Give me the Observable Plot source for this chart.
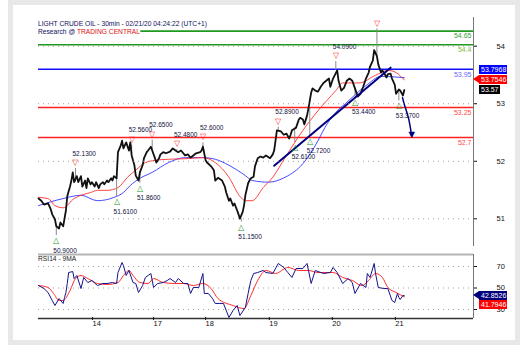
<!DOCTYPE html>
<html><head><meta charset="utf-8">
<script src="https://cdn.jsdelivr.net/npm/d3@7"></script>
<script src="https://cdn.jsdelivr.net/npm/@observablehq/plot@0.6"></script>
<style>
body{margin:0;background:#fff;font-family:"Liberation Sans",Arial,sans-serif;}
#wrap{position:relative;width:530px;height:360px;overflow:hidden;background:#fff}
.abs{position:absolute}
.tag{position:absolute;height:9px;line-height:9px;font-size:7px;color:#fff;padding:0 2px;white-space:nowrap}
.tip{position:absolute;width:0;height:0;border-top:4.5px solid transparent;border-bottom:4.5px solid transparent}
.ttl{font-size:7.5px;line-height:8px;color:#10105a;background:#fff;width:fit-content;white-space:nowrap;transform:scaleX(0.89);transform-origin:0 0}
</style></head><body>
<div id="wrap">
 <div class="abs" style="left:8px;top:0;width:502px;height:335px;border:5px solid #e8e8e8"></div>
 <div id="main" class="abs" style="left:0;top:0"></div>
 <div id="axis" class="abs" style="left:0;top:0"></div>
 <div id="rsi" class="abs" style="left:0;top:253px"></div>
 <div id="tags"></div>
 <div class="abs" style="left:38px;top:20px">
   <div class="ttl">LIGHT CRUDE OIL - 30min - 02/21/20 04:24:22 (UTC+1)</div>
   <div class="ttl">Research @ <span style="color:#e01010">TRADING CENTRAL</span></div>
 </div>
 <div class="abs ttl" style="left:38px;top:255px;color:#222;background:transparent">RSI14 - 9MA</div>
</div>
<script>
// ---------- data (x = 30-minute bar index) ----------
const priceBars = [
 0,2,4,7,9,10,12,13,15,16,
 18,19,20,21,23,24,25,26,28,29,
 31,32,34,35,36,38,39,41,42,44,
 45,47,48,50,51,53,54,55,57,58,
 60,61,62,64,66,67,68,70,71,73,
 74,76,77,79,80,82,83,85,86,88,
 89,91,93,96,98,100,102,104,107,109,
 111,113,115,118,119,120,122,123,126,128,
 129,131,134,136,137,139,140,142,143,145,
 146,147,149,150,151,153,154,155,157,158,
 160,162,164,166,169,171,172,173,174,177,
 179,181,183,184,185,188,190,191,193,194,
 196,197,199,200,202,204,206,208,210,212,
 213,215,218,219,221,223,225,227,229,231,
 233,235,237,239,241,242,244,245,247,248,
 250,251,253,254,255,257,258,260,261,263,
 264,266,267];
const priceClose = [
 51.58,51.54,51.47,51.49,51.38,51.29,51.20,51.07,51.03,51.14,
 51.07,51.21,51.36,51.62,51.80,51.91,52.06,51.88,51.99,51.88,
 51.99,51.80,51.91,51.77,51.95,51.84,51.88,51.80,51.88,51.77,
 51.84,51.88,51.84,51.91,51.88,51.95,51.91,51.99,51.95,52.43,
 52.55,52.64,52.50,52.61,52.46,52.61,52.37,52.19,52.00,51.91,
 52.06,52.19,52.32,52.43,52.46,52.53,52.46,52.32,52.24,52.32,
 52.39,52.43,52.41,52.44,52.50,52.46,52.43,52.46,52.37,52.39,
 52.33,52.37,52.41,52.43,52.46,52.53,52.28,52.24,52.17,52.10,
 51.91,51.96,51.91,51.80,51.69,51.54,51.58,51.45,51.49,51.36,
 51.29,51.21,51.33,51.45,51.64,51.86,51.91,51.95,51.98,52.17,
 52.32,52.35,52.33,52.37,52.32,52.39,52.46,52.64,52.83,52.81,
 52.75,52.77,52.68,52.75,52.83,52.88,53.03,53.06,53.03,52.94,
 53.10,53.23,53.52,53.60,53.56,53.54,53.63,53.70,53.74,53.78,
 53.63,53.78,53.93,53.74,53.56,53.61,53.74,53.78,53.74,53.60,
 53.45,53.50,53.63,53.78,53.89,54.00,54.11,54.30,54.19,54.04,
 53.89,53.93,53.85,53.80,53.86,53.87,53.78,53.67,53.50,53.58,
 53.56,53.47,53.57];

const redMaBars = [0,7,12,18,26,31,38,43,50,58, 65,71,78,85,95,107,120,129,139,147, 151,156,164,171,180,193,204,217,222,234, 246,255,261,267];
const redMaVals = [51.60,51.58,51.45,51.41,51.58,51.64,51.69,51.73,51.73,51.78, 51.97,52.10,52.24,52.28,52.30,52.31,52.33,52.24,51.97,51.62, 51.54,51.54,51.78,51.97,52.33,52.83,53.19,53.56,53.70,53.70, 53.84,53.93,53.89,53.7546];

const blueMaBars = [0,18,31,43,55,62,67,74,83,95, 107,120,129,139,151,156,168,180,193,204, 209,217,224,239,250,267];
const blueMaVals = [51.45,51.58,51.64,51.54,51.60,51.69,51.82,51.95,52.06,52.24, 52.33,52.33,52.30,52.19,52.00,51.91,51.88,51.97,52.22,52.64, 52.88,53.16,53.32,53.65,53.82,53.7968];

const levelValues = [54.65, 54.4, 53.95, 53.25, 52.7];
const levelKinds  = ["R2", "R1", "pivot", "S1", "S2"];

const pivotBars   = [13, 27, 57, 68, 74, 83, 101, 120, 148, 175, 187, 198, 217, 231, 247, 263];
const pivotValues = [50.90, 52.13, 51.61, 52.56, 51.86, 52.65, 52.48, 52.60, 51.15, 52.89, 52.61, 52.72, 54.09, 53.44, 54.69, 53.37];
const pivotTypes  = ["low","high","low","high","low","high","high","high","low","high","low","low","high","low","high","low"];
const pivotShowLabel = [true,true,true,true,true,true,true,true,true,true,true,true,true,true,false,true];

const trendBars = [172, 257];
const trendVals = [52.18, 53.98];
const projBars = [265.7, 267.2, 270.1, 272.3];
const projVals = [53.43, 53.29, 53.05, 52.74];

const rsiBars = [0,4,7,10,12,15,18,19,20,21, 22,25,26,28,31,33,36,39,43,47, 50,54,57,58,61,62,64,66,69,71, 73,76,78,80,82,84,87,91,94,96, 100,102,106,109,111,113,117,120,121,124, 127,129,132,135,139,142,145,147,151,153, 155,157,160,164,166,171,175,179,182,185, 188,193,196,199,202,208,213,215,218,222, 226,229,231,235,239,240,242,245,246,248, 252,255,258,260,262,263,264,266,267];
const rsiVals = [52.3,49.5,45.8,38.4,33.7,40.2,35.6,41.2,45.8,54.2, 64.4,65.3,58.8,61.6,49.5,59.8,55.1,57.0,52.3,54.2, 54.2,55.1,54.2,64.4,73.7,70.9,61.6,66.3,55.1,54.2, 45.8,52.3,59.8,61.6,63.5,50.5,54.2,55.1,57.0,58.8, 55.1,58.8,54.2,54.2,44.9,50.5,50.5,63.5,44.9,44.9, 40.2,35.6,35.6,35.6,22.6,29.1,33.7,24.4,31.9,44.9, 57.0,63.5,64.4,66.3,64.4,63.5,72.8,69.1,64.4,59.8, 68.1,68.1,72.8,54.2,66.3,63.5,64.4,69.1,64.4,54.2, 58.8,55.1,44.9,54.2,50.5,63.5,59.8,72.8,63.5,50.5, 49.5,49.5,38.4,36.5,44.9,41.2,39.3,43.0,42.8526];
const rsiMaBars = [0,7,11,15,18,23,27,31,36,43, 50,58,62,66,69,74,80,84,91,99, 106,113,120,126,131,142,150,155,160,166, 173,182,190,197,204,215,222,229,236,241, 246,251,255,261,267];
const rsiMaVals = [52.3,50.5,44.9,38.4,38.4,47.7,58.8,61.6,58.8,54.2, 53.3,55.1,61.6,66.3,61.6,55.1,54.2,58.8,55.1,54.2, 54.2,52.3,54.2,49.5,40.2,33.7,30.9,43.0,57.0,66.3, 63.5,69.1,66.3,66.3,64.4,64.4,59.8,57.0,52.3,57.0, 63.5,59.8,50.5,45.8,41.7946];

const priceTicks = [51, 52, 53, 54];
const rsiTicks = [30, 50, 70];
const dayTickBars = [38, 82.5, 120.5, 167, 213, 259];
const dayLabels = ["14", "17", "18", "19", "20", "21"];

// ---------- build ----------
const zip = (xs, ys) => xs.map((x, i) => ({x, y: ys[i]}));
const price = zip(priceBars, priceClose);
const redMa = zip(redMaBars, redMaVals);
const blueMa = zip(blueMaBars, blueMaVals);
const rsi = zip(rsiBars, rsiVals);
const rsiMa = zip(rsiMaBars, rsiMaVals);
const trend = zip(trendBars, trendVals);
const proj = zip(projBars, projVals);
const levels = levelValues.map((v, i) => ({value: v, kind: levelKinds[i]}));
const lineColor = {R2: "#1f9a1f", R1: "#1f9a1f", pivot: "#1010ff", S1: "#ff2020", S2: "#ff2020"};
const textColor = {R2: "#3aa03a", R1: "#86b83c", pivot: "#6a6aff", S1: "#ff4848", S2: "#ff4848"};
const pivots = pivotBars.map((b, i) => {
  let near = price[0];
  for (const p of price) if (Math.abs(p.x - b) < Math.abs(near.x - b)) near = p;
  return {x: b, y: pivotValues[i], type: pivotTypes[i], show: pivotShowLabel[i], close: near.y};
});
const highs = pivots.filter(d => d.type === "high");
const lows = pivots.filter(d => d.type === "low");

const X_DOMAIN = [0, 317.5];
const FONT = "'Liberation Sans', Arial, sans-serif";
const base = {width: 530, marginLeft: 38, marginRight: 57, style: {background: "transparent", overflow: "visible", fontFamily: FONT, fontSize: "7.5px", color: "#111"}};

const main = Plot.plot({
  ...base, height: 250, marginTop: 17, marginBottom: 4,
  x: {domain: X_DOMAIN, axis: null},
  y: {domain: [50.7, 54.9], axis: null},
  color: {type: "identity"},
  marks: [
    Plot.ruleY(levels, {y: "value", stroke: d => lineColor[d.kind], strokeWidth: 1.6}),
    Plot.text(levels, {y: "value", frameAnchor: "right", text: d => String(d.value), textAnchor: "end", dx: -2, dy: 5, fill: d => textColor[d.kind], fontSize: 7}),
    Plot.line(blueMa, {x: "x", y: "y", stroke: "#3535ff", strokeWidth: 0.9, curve: "monotone-x"}),
    Plot.line(redMa, {x: "x", y: "y", stroke: "#ff3030", strokeWidth: 0.9, curve: "monotone-x"}),
    Plot.ruleX(pivots, {x: "x", y1: "y", y2: "close", stroke: "#8a8a8a", strokeWidth: 1}),
    Plot.line(price, {x: "x", y: "y", stroke: "#111", strokeWidth: 1.8}),
    Plot.line(trend, {x: "x", y: "y", stroke: "#000080", strokeWidth: 2}),
    Plot.line(proj, {x: "x", y: "y", stroke: "#000080", strokeWidth: 1.5, curve: "natural"}),
    Plot.text(proj.slice(-1), {x: "x", y: "y", text: () => "▼", fill: "#000080", fontSize: 11, lineAnchor: "bottom", dy: 3}),
    Plot.text(highs, {x: "x", y: "y", text: () => "▽", fill: "#ff2a2a", fontSize: 8, lineAnchor: "middle", dy: -6}),
    Plot.text(lows, {x: "x", y: "y", text: () => "△", fill: "#1a9a1a", fontSize: 8, lineAnchor: "middle", dy: 5}),
    Plot.text(highs.filter(d => d.show), {x: "x", y: "y", text: d => d.y.toFixed(4), textAnchor: "start", dx: -3, dy: -15, lineAnchor: "middle", fill: "#101040", fontSize: 6.5}),
    Plot.text(lows.filter(d => d.show), {x: "x", y: "y", text: d => d.y.toFixed(4), textAnchor: "start", dx: -3, dy: 15, lineAnchor: "middle", fill: "#101040", fontSize: 6.5}),
    Plot.ruleX([X_DOMAIN[1]], {stroke: "#777", strokeWidth: 1})
  ]
});
document.getElementById("main").append(main);
const yMain = main.scale("y");

const axisPlot = Plot.plot({
  ...base, height: 250, marginTop: 45.7, marginBottom: 31.7,
  y: {domain: [51, 54]},
  marks: [
    Plot.gridY({ticks: priceTicks, stroke: "#888", strokeOpacity: 0.8, strokeDasharray: "1,4"}),
    Plot.axisY({ticks: priceTicks, tickFormat: d => String(d), anchor: "right", tickSize: 3, tickPadding: 20, fontSize: 7.5, label: null})
  ]
});
document.getElementById("axis").append(axisPlot);

const rsiTop = 70 + 12 / 1.075, rsiBottom = 30 - 9 / 1.075;
const dayMap = new Map(dayTickBars.map((b, i) => [b, dayLabels[i]]));
const rsiPlot = Plot.plot({
  ...base, height: 80, marginTop: 1, marginBottom: 15,
  x: {domain: X_DOMAIN},
  y: {domain: [rsiBottom, rsiTop]},
  marks: [
    Plot.gridY({ticks: rsiTicks, stroke: "#888", strokeOpacity: 0.8, strokeDasharray: "1,4"}),
    Plot.ruleY([rsiTop], {stroke: "#b4b4b4", strokeWidth: 2}),
    Plot.line(rsiMa, {x: "x", y: "y", stroke: "#ff2a2a", strokeWidth: 1, curve: "monotone-x"}),
    Plot.line(rsi, {x: "x", y: "y", stroke: "#14148c", strokeWidth: 1}),
    Plot.axisY({ticks: rsiTicks, tickFormat: d => String(d), anchor: "right", tickSize: 3, tickPadding: 20, fontSize: 7.5, label: null}),
    Plot.ruleY([rsiBottom], {stroke: "#333", strokeWidth: 1.5}),
    Plot.axisX({ticks: dayTickBars, tickFormat: d => dayMap.get(d), anchor: "bottom", tickSize: 3, tickPadding: 0, textAnchor: "start", dx: 2, dy: -1, fontSize: 7.5, label: null}),
    Plot.ruleX([X_DOMAIN[1]], {stroke: "#777", strokeWidth: 1})
  ]
});
document.getElementById("rsi").append(rsiPlot);

// ---------- value tags ----------
const tags = document.getElementById("tags");
function addTag(center, text, bg, arrow, w) {
  const d = document.createElement("div");
  d.className = "tag";
  d.style.left = "479px"; d.style.top = (center - 4.5) + "px"; d.style.background = bg;
  if (w) d.style.width = w + "px";
  d.textContent = text; tags.append(d);
  if (arrow) {
    const a = document.createElement("div");
    a.className = "tip"; a.style.left = "473px"; a.style.top = (center - 4.5) + "px";
    a.style.borderRight = "6px solid " + bg; tags.append(a);
  }
}
const redLast = redMaVals[redMaVals.length - 1], blueLast = blueMaVals[blueMaVals.length - 1], priceLast = priceClose[priceClose.length - 1];
const cRed = yMain.apply(redLast);
const cBlue = Math.min(yMain.apply(blueLast), cRed - 9.5);
const cPrice = Math.max(yMain.apply(priceLast), cRed + 9.5);
addTag(cRed, String(redLast), "#ff0000", true, 24);
addTag(cBlue, String(blueLast), "#0000ff", false, 24);
addTag(cPrice, String(priceLast), "#000000", false, 17);
const yR = rsiPlot.scale("y");
const rLast = rsiVals[rsiVals.length - 1], rmLast = rsiMaVals[rsiMaVals.length - 1];
const cR = 253 + yR.apply(rLast);
const cRm = Math.max(253 + yR.apply(rmLast), cR + 9.5);
addTag(cR, String(rLast), "#00007a", true, 24);
addTag(cRm, String(rmLast), "#ff0000", false, 24);
</script>
</body></html>
